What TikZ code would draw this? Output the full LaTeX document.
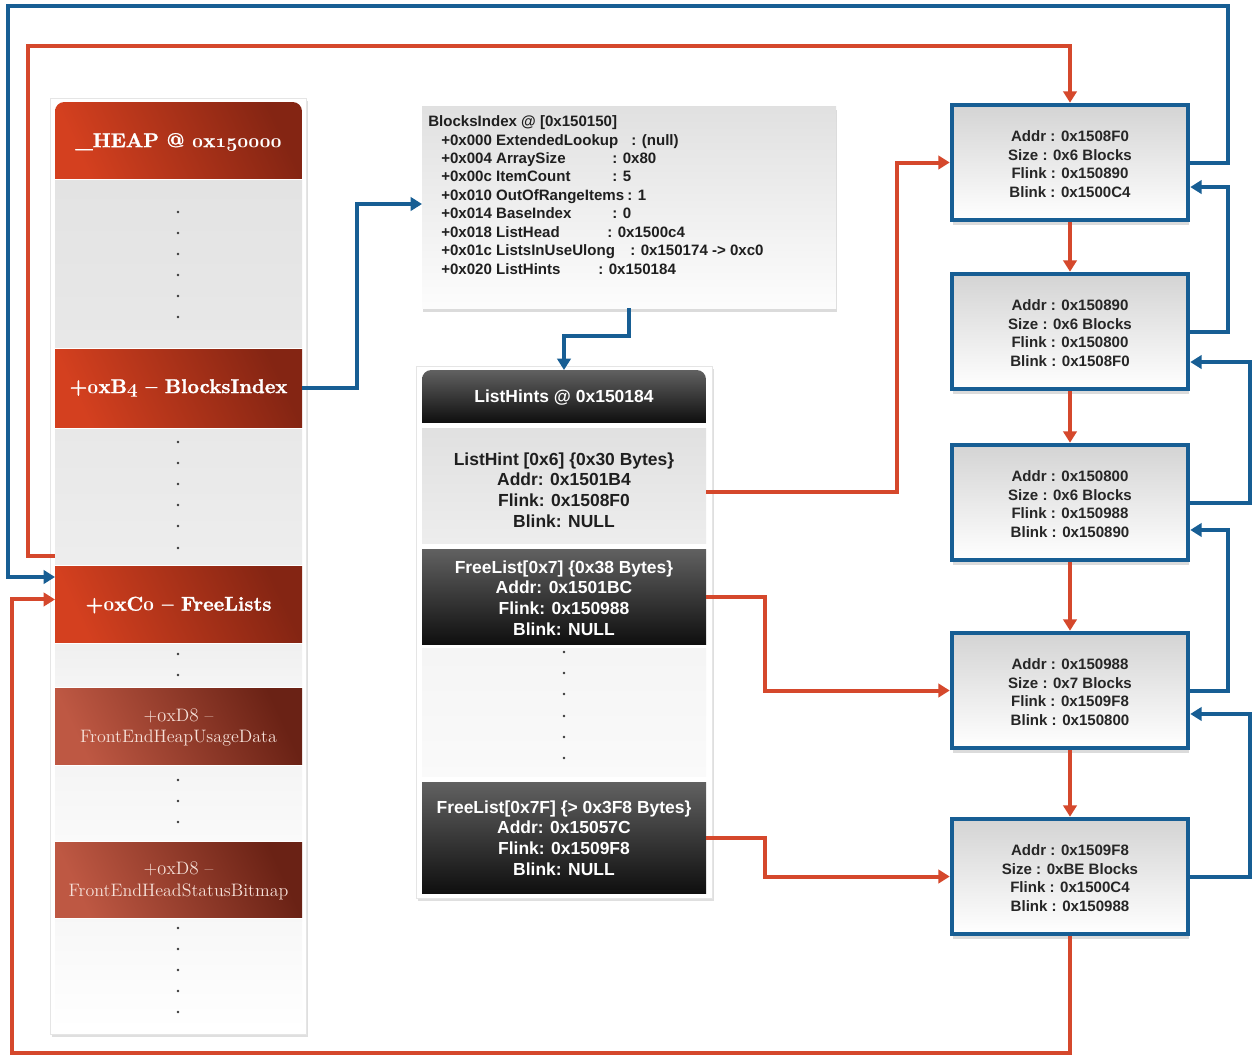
\documentclass[tikz,border=0pt]{standalone}
\usepackage{fontspec}
\newfontfamily\sans{Liberation Sans}
\newfontfamily\hdserif[FakeBold=1.3]{lmroman10-bold.otf}
\usetikzlibrary{arrows.meta,fit,shadows}

\definecolor{lnred}{HTML}{D5482C}
\definecolor{lnblue}{HTML}{175E94}
\definecolor{rowhi}{HTML}{D4401F}
\definecolor{rowlo}{HTML}{842513}
\definecolor{fehi}{HTML}{BE5843}
\definecolor{felo}{HTML}{6A2215}
\definecolor{fetxt}{HTML}{F6E0D8}

% old-style figures for the serif headings
\newcommand\osfb[1]{{\usefont{OML}{cmm}{b}{it}#1}}
\newcommand\osfm[1]{{\usefont{OML}{cmm}{m}{it}#1}}

\begin{document}
\begin{tikzpicture}[x=0.75pt,y=-0.75pt,
  box/.style={inner sep=0pt,outer sep=0pt},
  panel/.style={box,fill=white,draw=black!10,line width=0.4pt,
    drop shadow={shadow xshift=1.2pt,shadow yshift=-2.4pt,opacity=0.25}},
  redrow/.style={box,left color=rowhi,right color=rowlo,shading angle=115},
  ferow/.style={box,left color=fehi,right color=felo,shading angle=115},
  graysec/.style 2 args={box,top color=#1,bottom color=#2},
  darksec/.style={box,top color=black!62,bottom color=black!94},
  hdtext/.style={inner sep=0pt,text=white,font=\hdserif\fontsize{15}{18}\selectfont},
  fetext/.style={inner sep=0pt,text=fetxt,align=center,font=\fontsize{13.5}{15.9}\selectfont},
  bitext/.style={anchor=mid west,inner sep=0pt,text=black!88,
    font=\sans\bfseries\fontsize{11.3}{13.9}\selectfont},
  lhtext/.style={inner sep=0pt,align=center,font=\sans\bfseries\fontsize{13.1}{15.6}\selectfont},
  blk/.style={box,draw=lnblue,line width=3.4pt,outer sep=1.7pt,
    top color=black!17,bottom color=white,
    drop shadow={shadow xshift=1pt,shadow yshift=-3.5pt,opacity=0.28}},
  blktext/.style={inner sep=0pt,align=center,text=black!85,
    font=\sans\bfseries\fontsize{11.3}{13.9}\selectfont},
  tip/.style={-{Triangle[length=8.5pt,width=10pt]}},
  redline/.style={tip,draw=lnred,line width=3pt},
  blueline/.style={tip,draw=lnblue,line width=3pt},
  dot/.style={fill=black!78}
]
\useasboundingbox (0,0) rectangle (1252,1057);
\fill[white] (0,0) rectangle (1252,1057);

% ---------------- _HEAP column ----------------
\node[panel,fit={(50,98)(306,1034)}] (hpanel) {};
\begin{scope}
  \clip[rounded corners=7pt] (55,102) rectangle (302,200);
  \shade[left color=rowhi,right color=rowlo,shading angle=115] (55,102) rectangle (302,178);
\end{scope}
\node[box,fit={(55,102)(302,178)}] (hHeap) {};
\node[graysec={black!11}{black!9},fit={(55,180)(302,347)}] (hG1) {};
\node[redrow,fit={(55,349)(302,427)}] (hBI) {};
\node[graysec={black!9}{black!7},fit={(55,429)(302,564)}] (hG2) {};
\node[redrow,fit={(55,566)(302,642)}] (hFL) {};
\node[graysec={black!6}{black!4},fit={(55,644)(302,686)}] (hG3) {};
\node[ferow,fit={(55,688)(302,764)}] (hFE1) {};
\node[graysec={black!4}{black!2},fit={(55,766)(302,840)}] (hG4) {};
\node[ferow,fit={(55,842)(302,917)}] (hFE2) {};
\node[graysec={black!3}{black!0},fit={(55,919)(302,1030)}] (hG5) {};

\node[hdtext] (hHeapT) at (178.5,142) {\_HEAP @ \osfb{0}x\osfb{150000}};
\node[hdtext] (hBIT) at (178.5,388) {+\osfb{0}xB\osfb{4} \textendash{} BlocksIndex};
\node[hdtext] (hFLT) at (178.5,605) {+\osfb{0}xC\osfb{0} \textendash{} FreeLists};
\node[fetext] (hFE1T) at (178.5,728) {+\osfm{0}xD\osfm{8} \textendash\\FrontEndHeapUsageData};
\node[fetext] (hFE2T) at (178.5,881) {+\osfm{0}xD\osfm{8} \textendash\\FrontEndHeadStatusBitmap};

\foreach \y in {212,233,254,275,296,317,442,463,484,505,526,548,654,675,780,801,822,928,949,970,991,1012}
  \fill[dot] (178,\y) circle (1.1pt);

% ---------------- BlocksIndex ----------------
\node[box,fit={(422,106)(836,308)},top color=black!12,bottom color=black!1,
  drop shadow={shadow xshift=1pt,shadow yshift=-3pt,opacity=0.28}] (bibox) {};
\node[bitext] (bi0) at (428,124) {BlocksIndex @ [0x150150]};
\node[bitext] (bi1) at (441,143) {\makebox[142.5pt][l]{+0x000 ExtendedLookup}: (null)};
\node[bitext] (bi2) at (441,161) {\makebox[128.25pt][l]{+0x004 ArraySize}: 0x80};
\node[bitext] (bi3) at (441,179) {\makebox[128.25pt][l]{+0x00c ItemCount}: 5};
\node[bitext] (bi4) at (441,198) {\makebox[139.5pt][l]{+0x010 OutOfRangeItems }: 1};
\node[bitext] (bi5) at (441,216) {\makebox[128.25pt][l]{+0x014 BaseIndex}: 0};
\node[bitext] (bi6) at (441,235) {\makebox[124.5pt][l]{+0x018 ListHead}: 0x1500c4};
\node[bitext] (bi7) at (441,253) {\makebox[141.75pt][l]{+0x01c ListsInUseUlong }: 0x150174 -> 0xc0};
\node[bitext] (bi8) at (441,272) {\makebox[117.75pt][l]{+0x020 ListHints}: 0x150184};

% ---------------- ListHints ----------------
\node[panel,fit={(416,366)(712,898)}] (lhpanel) {};
\begin{scope}
  \clip[rounded corners=7pt] (422,370) rectangle (706,440);
  \shade[top color=black!62,bottom color=black!94] (422,370) rectangle (706,422);
\end{scope}
\node[box,fit={(422,370)(706,422)}] (lhHead) {};
\node[graysec={black!12}{black!7},fit={(422,428)(706,543)}] (lh6) {};
\node[darksec,fit={(422,549)(706,644)}] (lf7) {};
\node[graysec={black!4}{black!2},fit={(422,648)(706,776)}] (lhG) {};
\node[darksec,fit={(422,782)(706,893)}] (lf7F) {};

\node[lhtext,text=white] (lhHeadT) at (564,398) {ListHints @ 0x150184};
\node[lhtext,text=black!88] (lh6T) at (564,490)
  {ListHint [0x6] \{0x30 Bytes\}\\Addr: 0x1501B4\\Flink: 0x1508F0\\Blink: NULL};
\node[lhtext,text=white] (lf7T) at (564,598)
  {FreeList[0x7] \{0x38 Bytes\}\\Addr: 0x1501BC\\Flink: 0x150988\\Blink: NULL};
\node[lhtext,text=white] (lf7FT) at (564,838)
  {FreeList[0x7F] \{> 0x3F8 Bytes\}\\Addr: 0x15057C\\Flink: 0x1509F8\\Blink: NULL};
\foreach \y in {652,673,694,716,737,758}
  \fill[dot] (564,\y) circle (1.1pt);

% ---------------- free chunks ----------------
\node[blk,fit={(952,105)(1188,220)}] (b1) {};
\node[blk,fit={(952,274)(1188,389)}] (b2) {};
\node[blk,fit={(952,445)(1188,560)}] (b3) {};
\node[blk,fit={(952,633)(1188,748)}] (b4) {};
\node[blk,fit={(952,819)(1188,934)}] (b5) {};
\node[blktext] (b1T) at (1070,164) {Addr : 0x1508F0\\Size : 0x6 Blocks\\Flink : 0x150890\\Blink : 0x1500C4};
\node[blktext] (b2T) at (1070,333) {Addr : 0x150890\\Size : 0x6 Blocks\\Flink : 0x150800\\Blink : 0x1508F0};
\node[blktext] (b3T) at (1070,504) {Addr : 0x150800\\Size : 0x6 Blocks\\Flink : 0x150988\\Blink : 0x150890};
\node[blktext] (b4T) at (1070,692) {Addr : 0x150988\\Size : 0x7 Blocks\\Flink : 0x1509F8\\Blink : 0x150800};
\node[blktext] (b5T) at (1070,878) {Addr : 0x1509F8\\Size : 0xBE Blocks\\Flink : 0x1500C4\\Blink : 0x150988};

% ---------------- blue links ----------------
\draw[blueline] (hBI.east) -- ++(55,0) |- ([yshift=2.25pt]bibox.west);
\draw[blueline] (bibox.south) -- ++(0,28) -| (lhHead.north);
\draw[blueline] (b1.east) -| (1228,6) -- (8,6) |- ([yshift=20.25pt]hFL.west);
\draw[blueline] (b2.east) -- ++(38,0) |- ([yshift=-18.4pt]b1.east);
\draw[blueline] (b3.east) -- ++(60,0) |- ([yshift=-22.9pt]b2.east);
\draw[blueline] (b4.east) -- ++(38,0) |- ([yshift=-20.6pt]b3.east);
\draw[blueline] (b5.east) -- ++(60,0) |- ([yshift=-17.6pt]b4.east);

% ---------------- red links ----------------
\draw[redline] ([yshift=7.5pt]hFL.north west) -- ++(-27,0) -- (28,46) -| (b1.north);
\draw[redline] (b1.south) -- (b2.north);
\draw[redline] (b2.south) -- (b3.north);
\draw[redline] (b3.south) -- (b4.north);
\draw[redline] (b4.south) -- (b5.north);
\draw[redline] (b5.south) |- (12,1053) |- ([yshift=3.4pt]hFL.west);
\draw[redline] ([yshift=-4.9pt]lh6.east) -- ++(191,0) |- (b1.west);
\draw[redline] (lf7.east) -- ++(59,0) |- (b4.west);
\draw[redline] (lf7F.east) -- ++(59,0) |- (b5.west);
\end{tikzpicture}
\end{document}
